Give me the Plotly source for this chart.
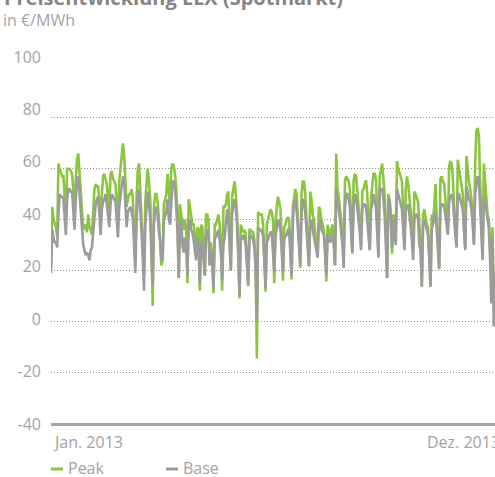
import pandas as pd
import plotly.graph_objects as go

# ---------------- data ----------------
series_names = ["Peak", "Base"]

peak = [
    22, 45, 40, 38, 37, 33, 62, 60, 58, 57,
    57, 50, 42, 60, 60, 60, 59, 58, 52, 45,
    56, 64, 66, 58, 51, 44, 36, 37, 38, 35,
    42, 37, 36, 34, 46, 52, 54, 53, 53, 48,
    40, 50, 57, 58, 56, 54, 48, 44, 58, 59,
    56, 55, 54, 45, 40, 55, 60, 66, 70, 65,
    52, 45, 48, 50, 50, 52, 48, 38, 25, 48,
    60, 62, 52, 42, 30, 18, 47, 55, 60, 55,
    48, 30, 6, 45, 50, 50, 47, 40, 33, 22,
    24, 46, 48, 50, 58, 50, 45, 60, 62, 61,
    58, 52, 42, 17, 46, 42, 38, 36, 40, 36,
    15, 48, 45, 40, 38, 38, 33, 28, 37, 36,
    12, 38, 37, 28, 18, 42, 42, 40, 22, 31,
    25, 11, 38, 38, 40, 42, 38, 30, 12, 45,
    45, 46, 50, 51, 35, 20, 49, 52, 55, 50,
    42, 28, 9, 38, 36, 35, 36, 34, 24, 14,
    36, 36, 35, 35, 32, 22, -14.6, 43, 42, 42,
    42, 38, 25, 11.6, 38, 40, 43, 44, 43, 40,
    15, 38, 45, 49, 47, 44, 33, 16, 37, 38,
    40, 41, 40, 30, 16.5, 45, 50, 52, 50, 42,
    32, 21, 50, 55, 55, 50, 40, 30, 21.5, 51,
    48, 42, 40, 35, 30, 27.5, 45, 44, 40, 38,
    36, 28, 15.7, 38, 36, 33, 36, 38, 33, 22,
    66, 52, 49, 45, 40, 32, 26, 55, 57, 56,
    55, 52, 42, 26.6, 55, 58, 57, 52, 45, 38,
    29.6, 51, 52, 54, 55.5, 50, 40, 28, 48, 55,
    58, 58, 56, 42, 26, 57, 60, 62, 56, 50,
    35, 17, 50, 48, 40, 26.6, 42, 40, 35, 63,
    60, 58, 57, 55, 42, 30, 52, 57, 54, 48,
    45, 38, 28, 51, 50, 48, 47, 38, 30, 14,
    42, 44, 40, 38, 37, 27, 14, 42, 40, 45,
    54, 40, 32, 21, 56, 57, 55, 54, 48, 40,
    35, 61, 63, 62, 56, 45, 38, 30, 63.5, 60,
    55, 52, 50, 38, 29, 65, 58, 55, 52, 48,
    40, 31, 62, 75, 76, 73, 55, 40, 25, 62,
    55, 48, 42, 40, 30, 22, 37, 8, 12, 22,
]

base = [
    19, 36, 33, 31, 31, 29, 42, 50, 49, 49,
    48, 42, 34, 48, 52, 52, 51, 51, 44, 36,
    48, 55, 57, 50, 44, 36, 30, 28, 26, 27,
    26, 24, 28, 29, 36, 42, 46, 48, 49, 42,
    34, 44, 47, 48, 50, 46, 40, 37, 46, 50,
    49, 48, 47, 40, 33, 45, 50, 54, 57, 55,
    45, 37, 43, 44, 45, 43, 40, 30, 19, 40,
    50, 52, 45, 35, 25, 12, 38, 47, 51, 46,
    40, 26, 14, 38, 44, 45, 42, 35, 32, 24,
    25, 40, 42, 43, 48, 40, 38, 50, 55, 55,
    52, 45, 35, 17, 38, 40, 30, 27, 33, 30,
    18, 38, 40, 36, 35, 32, 28, 24, 33, 30,
    15, 30, 31, 24, 18, 34, 36, 34, 22, 28,
    25, 13, 33, 33, 35, 36, 32, 27, 16, 30,
    33, 38, 44, 40, 30, 20, 42, 46, 48, 45,
    38, 26, 10, 33, 32, 34, 33, 30, 22, 14,
    33, 34, 33, 32, 29, 20, 0.4, 37, 36, 36,
    35, 34, 24, 13, 31, 32, 34, 35, 35, 28,
    19, 33, 38, 40, 39, 36, 28, 19, 32, 34,
    34, 36, 36, 28, 18, 40, 46, 48, 44, 37,
    30, 22, 42, 48, 47, 43, 36, 28, 22, 38,
    40, 36, 33, 30, 28, 25, 38, 40, 36, 35,
    34, 27, 18, 34, 33, 31, 32, 34, 30, 22,
    52, 46, 44, 40, 35, 30, 21, 45, 50, 50,
    48, 45, 35, 27, 45, 50, 49, 45, 40, 35,
    28, 44, 46, 46, 45, 40, 33, 28, 44, 46,
    50, 48, 45, 35, 25, 52, 52, 52, 48, 42,
    30, 17, 46, 48, 42, 29, 40, 35, 30, 52,
    50, 47, 46, 44, 36, 28, 44, 45, 46, 42,
    38, 32, 24, 40, 42, 42, 40, 30, 28, 13.5,
    38, 40, 38, 36, 34, 25, 13.5, 36, 38, 40,
    43, 36, 30, 20.5, 44, 46, 46, 45, 42, 38,
    34, 47, 49, 50, 48, 40, 34, 29, 50, 50,
    48, 47, 44, 36, 28, 53, 50, 48, 47, 44,
    38, 30, 50, 55, 57, 56, 45, 35, 24, 49,
    47, 44, 40, 37, 25, 7, 33, -2, 10, 20,
]

dates = pd.date_range("2013-01-01", periods=len(peak), freq="D")

y_ticks = [-40, -20, 0, 20, 40, 60, 80, 100]
y_tick_labels = ["-40", "-20", "0", "20", "40", "60", "80", "100"]
x_tick_dates = ["2013-01-01", "2013-12-31"]
x_tick_labels = ["Jan. 2013", "Dez. 2013"]
x_range = ["2013-01-01", "2013-12-25"]

title_text = "Preisentwicklung EEX (Spotmarkt)"
unit_text = "in €/MWh"

# ---------------- style ----------------
GREEN = "#8cc540"
GRAY = "#9c9c9c"
TXT = "#a3a3a3"
FONT = "Open Sans"

W, H = 495, 477
ML, MR, MT, MB = 51, 0, 57, 53
PH = H - MT - MB  # paper height in px


def py(pix):
    """pixel row -> paper fraction"""
    return (H - MB - pix) / PH


def px(pix):
    return (pix - ML) / (W - ML - MR)


r0, r1 = pd.Timestamp(x_range[0]), pd.Timestamp(x_range[1])


def date_frac(d):
    """date -> paper fraction along the x axis"""
    return (pd.Timestamp(d) - r0) / (r1 - r0)


fig = go.Figure()
fig.add_trace(go.Scatter(x=dates, y=peak, name=series_names[0], mode="lines",
                         line=dict(color=GREEN, width=2.6), hoverinfo="skip",
                         showlegend=False, xaxis="x", yaxis="y"))
fig.add_trace(go.Scatter(x=dates, y=base, name=series_names[1], mode="lines",
                         line=dict(color=GRAY, width=2.6), hoverinfo="skip",
                         showlegend=False, xaxis="x", yaxis="y"))
# invisible trace that carries the label axis
fig.add_trace(go.Scatter(x=[dates[0]], y=[y_ticks[0]], mode="markers",
                         marker=dict(opacity=0), hoverinfo="skip",
                         showlegend=False, xaxis="x", yaxis="y2"))

fig.update_layout(
    width=W, height=H,
    margin=dict(l=ML, r=MR, t=MT, b=MB),
    paper_bgcolor="white", plot_bgcolor="rgba(0,0,0,0)",
    font=dict(family=FONT, color=TXT, size=16),
    showlegend=False,
    xaxis=dict(range=x_range, anchor="y", showgrid=False, zeroline=False,
               showline=True, linecolor="#a5a5a5", linewidth=3,
               showticklabels=False, ticks=""),
    yaxis=dict(domain=[py(423), py(67)], range=[y_ticks[0], y_ticks[-1]],
               tickvals=y_ticks[1:], showticklabels=False, ticks="",
               showgrid=True, gridcolor="#8e8e8e", gridwidth=1,
               griddash="1px,2px", zeroline=False),
    yaxis2=dict(domain=[0, 1], anchor="x", range=[y_ticks[0], y_ticks[-1]],
                tickvals=y_ticks, ticktext=y_tick_labels, showgrid=False,
                zeroline=False, ticks="", ticklabelstandoff=9,
                tickfont=dict(family=FONT, size=16, color=TXT)),
)

annotations = [
    dict(text=f"<b>{title_text}</b>", xref="paper", yref="paper",
         x=px(2), y=py(-3), xanchor="left", yanchor="middle", showarrow=False,
         font=dict(family=FONT, size=20, color="#858585")),
    dict(text=unit_text, xref="paper", yref="paper",
         x=px(1), y=py(20), xanchor="left", yanchor="middle", showarrow=False,
         font=dict(family=FONT, size=16, color=TXT)),
    dict(text=x_tick_labels[0], xref="paper", yref="paper",
         x=date_frac(x_tick_dates[0]), y=py(442), xanchor="left",
         yanchor="middle", showarrow=False,
         font=dict(family=FONT, size=16, color=TXT)),
    dict(text=x_tick_labels[1], xref="paper", yref="paper",
         x=date_frac(x_tick_dates[1]), y=py(442), xanchor="right",
         yanchor="middle", showarrow=False,
         font=dict(family=FONT, size=16, color=TXT)),
    dict(text=series_names[0], xref="paper", yref="paper", x=px(66),
         y=py(468), xanchor="left", yanchor="middle", showarrow=False,
         font=dict(family=FONT, size=16, color=TXT)),
    dict(text=series_names[1], xref="paper", yref="paper", x=px(181),
         y=py(468), xanchor="left", yanchor="middle", showarrow=False,
         font=dict(family=FONT, size=16, color=TXT)),
]
fig.update_layout(annotations=annotations)

shapes = [
    dict(type="line", xref="paper", yref="paper", x0=px(51), x1=px(63),
         y0=py(469), y1=py(469), line=dict(color=GREEN, width=3)),
    dict(type="line", xref="paper", yref="paper", x0=px(166), x1=px(178),
         y0=py(469), y1=py(469), line=dict(color=GRAY, width=3)),
]
fig.update_layout(shapes=shapes)

fig.write_html(
    "out.html",
    config={"displayModeBar": False, "staticPlot": True},
    post_script="document.body.style.margin='0';document.body.style.overflow='hidden';",
)
